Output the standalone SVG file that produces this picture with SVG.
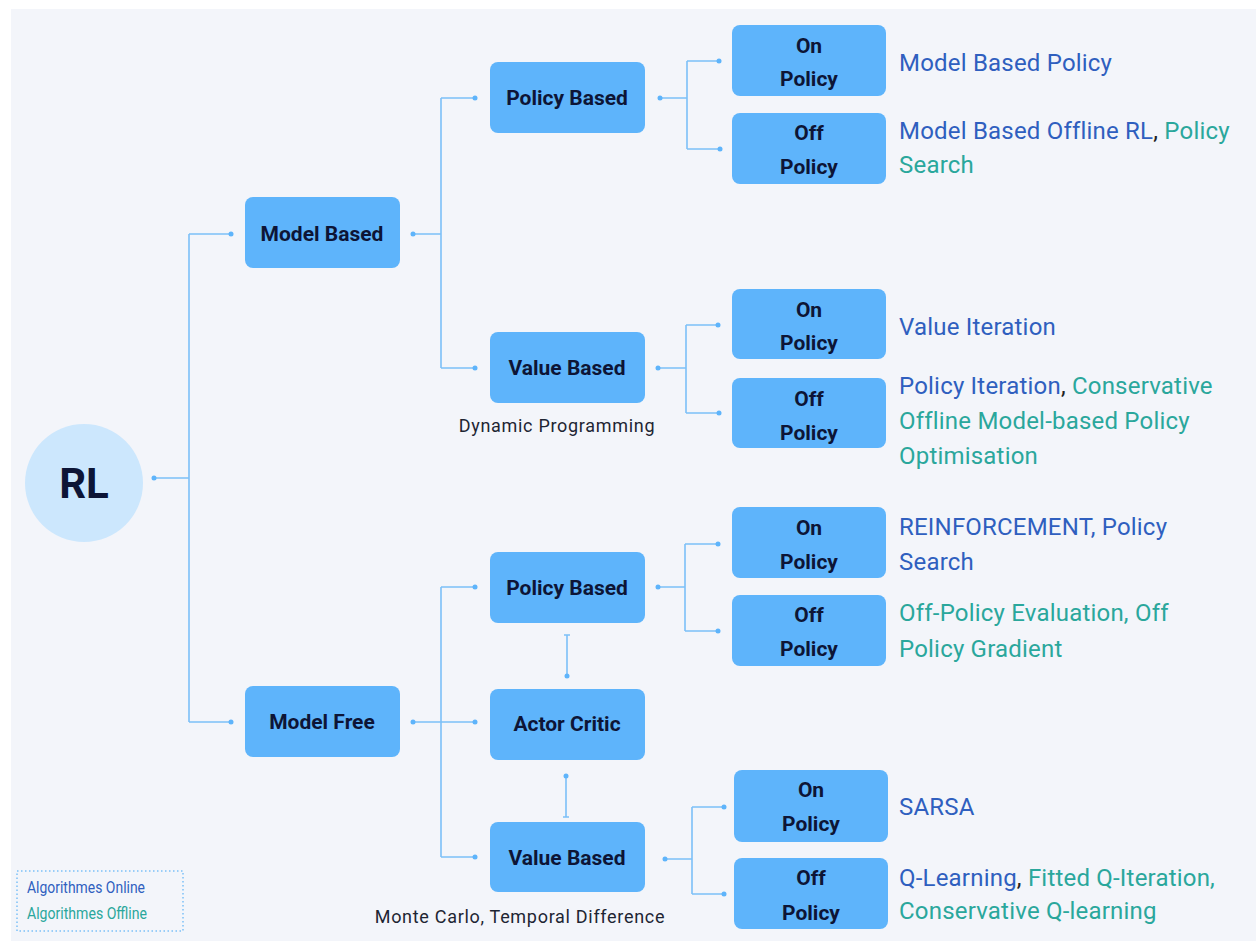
<svg xmlns="http://www.w3.org/2000/svg" width="1256" height="941" viewBox="0 0 1256 941">
<style>
.bg{fill:#f3f5fa}
.box{fill:#5eb4fb}
.lbl{font-family:Roboto,"Liberation Sans",sans-serif;font-weight:700;font-size:21px;fill:#0d1536;text-anchor:middle}
.ln{fill:none;stroke:#7cc0f8;stroke-width:1.6}
.dot{fill:#5eb4fb}
.t{font-family:Roboto,"Liberation Sans",sans-serif;font-size:24px;letter-spacing:0.2px}
.on{fill:#2f5fbf}
.off{fill:#2aa79c}
.dk{fill:#222}
.cap{font-family:Roboto,"Liberation Sans",sans-serif;font-size:18px;letter-spacing:0.7px;fill:#1e2533;text-anchor:middle}
</style>
<rect class="bg" x="11" y="9" width="1245" height="932"/>

<g id="connectors">
<path class="ln" d="M154 478H189M189 234V722M189 234H231M189 722H231"/>
<circle class="dot" cx="154" cy="478" r="2.5"/><circle class="dot" cx="231" cy="234" r="2.5"/><circle class="dot" cx="231" cy="722" r="2.5"/>

<path class="ln" d="M413 234H441M441 98V368M441 98H475M441 368H475"/>
<circle class="dot" cx="413" cy="234" r="2.5"/><circle class="dot" cx="475" cy="98" r="2.5"/><circle class="dot" cx="475" cy="368" r="2.5"/>

<path class="ln" d="M660 98H687M687 61V149M687 61H719M687 149H720"/>
<circle class="dot" cx="660" cy="98" r="2.5"/><circle class="dot" cx="719" cy="61" r="2.5"/><circle class="dot" cx="720" cy="149" r="2.5"/>

<path class="ln" d="M658 368H686M686 325V413M686 325H718M686 413H719"/>
<circle class="dot" cx="658" cy="368" r="2.5"/><circle class="dot" cx="718" cy="325" r="2.5"/><circle class="dot" cx="719" cy="413" r="2.5"/>

<path class="ln" d="M413 722H475M441 587V857M441 587H475M441 857H475"/>
<circle class="dot" cx="413" cy="722" r="2.5"/><circle class="dot" cx="475" cy="587" r="2.5"/><circle class="dot" cx="475" cy="722" r="2.5"/><circle class="dot" cx="475" cy="857" r="2.5"/>

<path class="ln" d="M567 635V676M564 635H570M566 776V817M563 817H569"/>
<circle class="dot" cx="567" cy="676" r="2.5"/><circle class="dot" cx="566" cy="776" r="2.5"/>

<path class="ln" d="M658 587H685M685 544V631M685 544H718M685 631H718"/>
<circle class="dot" cx="658" cy="587" r="2.5"/><circle class="dot" cx="718" cy="544" r="2.5"/><circle class="dot" cx="718" cy="631" r="2.5"/>

<path class="ln" d="M665 859H692M692 807V894M692 807H724M692 894H724"/>
<circle class="dot" cx="665" cy="859" r="2.5"/><circle class="dot" cx="724" cy="807" r="2.5"/><circle class="dot" cx="724" cy="894" r="2.5"/>
</g>

<g id="rl"><circle cx="84" cy="483" r="59" fill="#cce7fd"/><text x="84" y="498" font-family="Roboto,'Liberation Sans',sans-serif" font-weight="700" font-size="42" fill="#0d1536" text-anchor="middle">RL</text></g>

<g id="model-based"><rect class="box" x="245" y="197" width="155" height="71" rx="8"/><text class="lbl" x="322" y="241">Model Based</text></g>
<g id="model-free"><rect class="box" x="245" y="686" width="155" height="71" rx="8"/><text class="lbl" x="322" y="729">Model Free</text></g>

<g id="mb-policy"><rect class="box" x="490" y="62" width="155" height="71" rx="8"/><text class="lbl" x="567" y="105">Policy Based</text></g>
<g id="mb-value"><rect class="box" x="490" y="332" width="155" height="71" rx="8"/><text class="lbl" x="567" y="375">Value Based</text><text class="cap" x="557" y="432">Dynamic Programming</text></g>

<g id="mf-policy"><rect class="box" x="490" y="552" width="155" height="71" rx="8"/><text class="lbl" x="567" y="595">Policy Based</text></g>
<g id="mf-actor"><rect class="box" x="490" y="689" width="155" height="71" rx="8"/><text class="lbl" x="567" y="731">Actor Critic</text></g>
<g id="mf-value"><rect class="box" x="490" y="822" width="155" height="70" rx="8"/><text class="lbl" x="567" y="865">Value Based</text><text class="cap" x="520" y="923">Monte Carlo, Temporal Difference</text></g>

<g id="mbp-on"><rect class="box" x="732" y="25" width="154" height="71" rx="8"/><text class="lbl" x="809" y="53">On</text><text class="lbl" x="809" y="86">Policy</text>
<text class="t on" x="899" y="71">Model Based Policy</text></g>
<g id="mbp-off"><rect class="box" x="732" y="113" width="154" height="71" rx="8"/><text class="lbl" x="809" y="140">Off</text><text class="lbl" x="809" y="174">Policy</text>
<text class="t" x="899" y="139"><tspan class="on">Model Based Offline RL</tspan><tspan class="dk">, </tspan><tspan class="off">Policy</tspan></text><text class="t off" x="899" y="173">Search</text></g>

<g id="mbv-on"><rect class="box" x="732" y="289" width="154" height="70" rx="8"/><text class="lbl" x="809" y="317">On</text><text class="lbl" x="809" y="350">Policy</text>
<text class="t on" x="899" y="335">Value Iteration</text></g>
<g id="mbv-off"><rect class="box" x="732" y="378" width="154" height="70" rx="8"/><text class="lbl" x="809" y="406">Off</text><text class="lbl" x="809" y="440">Policy</text>
<text class="t" x="899" y="394"><tspan class="on">Policy Iteration</tspan><tspan class="dk">, </tspan><tspan class="off">Conservative</tspan></text><text class="t off" x="899" y="429">Offline Model-based Policy</text><text class="t off" x="899" y="464">Optimisation</text></g>

<g id="mfp-on"><rect class="box" x="732" y="507" width="154" height="71" rx="8"/><text class="lbl" x="809" y="535">On</text><text class="lbl" x="809" y="569">Policy</text>
<text class="t on" x="899" y="535">REINFORCEMENT, Policy</text><text class="t on" x="899" y="570">Search</text></g>
<g id="mfp-off"><rect class="box" x="732" y="595" width="154" height="71" rx="8"/><text class="lbl" x="809" y="622">Off</text><text class="lbl" x="809" y="656">Policy</text>
<text class="t off" x="899" y="621">Off-Policy Evaluation, Off</text><text class="t off" x="899" y="657">Policy Gradient</text></g>

<g id="mfv-on"><rect class="box" x="734" y="770" width="154" height="72" rx="8"/><text class="lbl" x="811" y="797">On</text><text class="lbl" x="811" y="831">Policy</text>
<text class="t on" x="899" y="815">SARSA</text></g>
<g id="mfv-off"><rect class="box" x="734" y="858" width="154" height="71" rx="8"/><text class="lbl" x="811" y="885">Off</text><text class="lbl" x="811" y="920">Policy</text>
<text class="t" x="899" y="886"><tspan class="on">Q-Learning</tspan><tspan class="dk">, </tspan><tspan class="off">Fitted Q-Iteration,</tspan></text><text class="t off" x="899" y="919">Conservative Q-learning</text></g>

<g id="legend"><rect x="17" y="871" width="166" height="60" fill="none" stroke="#7cc0f8" stroke-width="1.5" stroke-dasharray="1.5 2.5"/>
<text x="27" y="893" font-family="Roboto,'Liberation Sans',sans-serif" font-size="17" textLength="118" lengthAdjust="spacingAndGlyphs" class="on">Algorithmes Online</text>
<text x="27" y="919" font-family="Roboto,'Liberation Sans',sans-serif" font-size="17" textLength="120" lengthAdjust="spacingAndGlyphs" class="off">Algorithmes Offline</text></g>
</svg>
